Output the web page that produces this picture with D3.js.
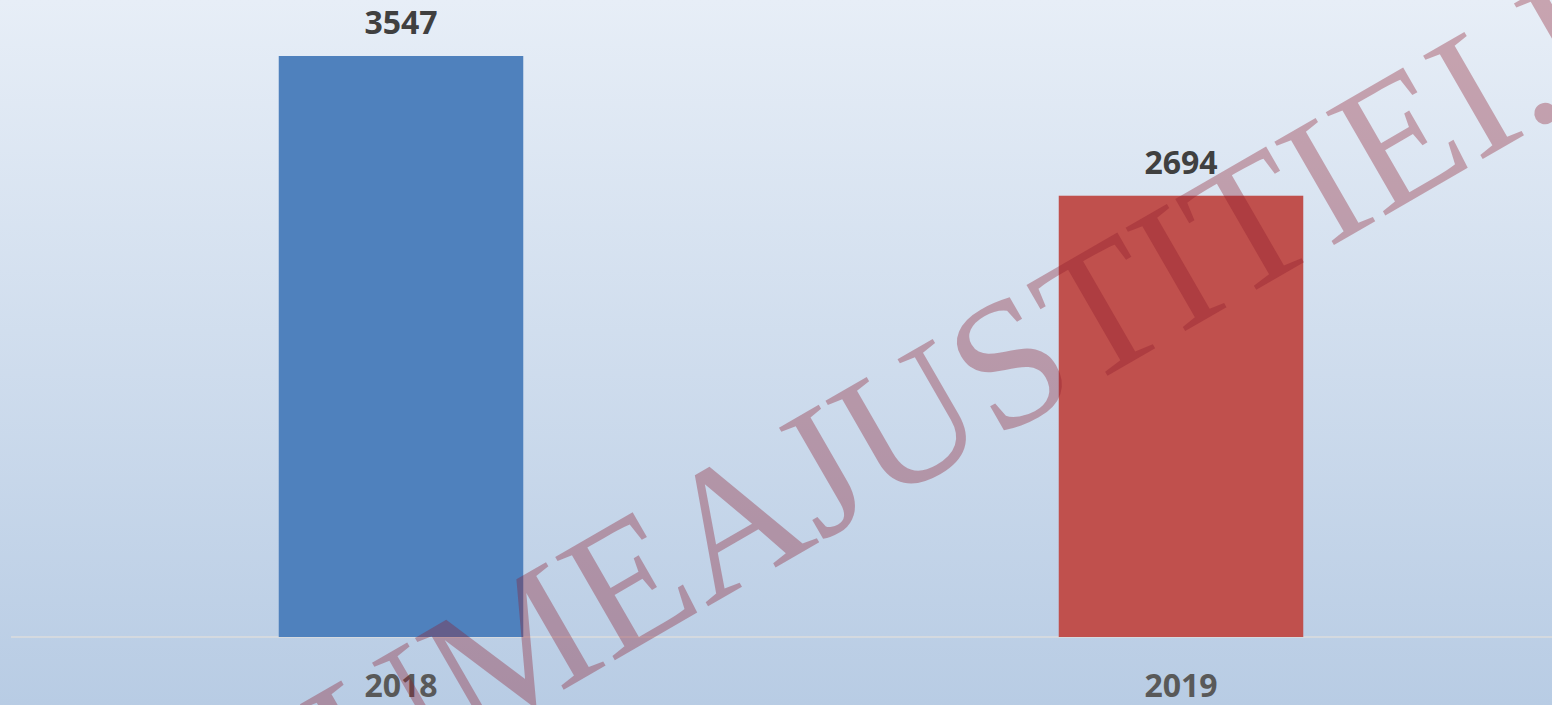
<!DOCTYPE html>
<html>
<head>
<meta charset="utf-8">
<script src="https://cdn.jsdelivr.net/npm/d3@7"></script>
<style>
    body { margin: 0; overflow: hidden; }
    #chart { width: 1552px; height: 705px; }
</style>
</head>
<body>
<div id="chart"></div>
<script>
// data
const years = ["2018", "2019"];
const values = [3547, 2694];
const barColors = ["#4f81bd", "#c0504d"];
const watermark = "LUMEAJUSTITIEI.RO";

const width = 1552, height = 705;

const svg = d3.select("#chart").append("svg")
    .attr("width", width)
    .attr("height", height);

// background gradient
const grad = svg.append("defs").append("linearGradient")
    .attr("id", "bg")
    .attr("x1", 0).attr("y1", 0).attr("x2", 0).attr("y2", 1);
grad.append("stop").attr("offset", "0%").attr("stop-color", "#e7eef7");
grad.append("stop").attr("offset", "100%").attr("stop-color", "#b8cce4");

svg.append("rect")
    .attr("width", width)
    .attr("height", height)
    .attr("fill", "url(#bg)");

// scales
let x = d3.scaleBand()
    .domain(years)
    .range([11, 1571])
    .padding(0);

let y = d3.scaleLinear()
    .domain([0, 4000])
    .range([637, 637 - 4000 * 0.1638]);

let barWidth = x.bandwidth() / (1 + 2.19);

// baseline
svg.append("line")
    .attr("x1", 11).attr("x2", width)
    .attr("y1", y(0)).attr("y2", y(0))
    .attr("stroke", "#dcdcdc")
    .attr("stroke-width", 1.5);

// bars
svg.selectAll(".bar")
    .data(years)
    .enter().append("rect")
    .attr("class", "bar")
    .attr("x", (d) => x(d) + x.bandwidth() / 2 - barWidth / 2)
    .attr("y", (d, i) => y(values[i]))
    .attr("width", barWidth)
    .attr("height", (d, i) => y(0) - y(values[i]))
    .attr("fill", (d, i) => barColors[i]);

// value labels
svg.selectAll(".val")
    .data(years)
    .enter().append("text")
    .attr("class", "val")
    .attr("x", (d) => x(d) + x.bandwidth() / 2)
    .attr("y", (d, i) => y(values[i]) - 22)
    .attr("text-anchor", "middle")
    .attr("font-family", "'Open Sans', sans-serif")
    .attr("font-weight", 700)
    .attr("font-size", 32)
    .attr("fill", "#404040")
    .text((d, i) => values[i]);

// category labels
svg.selectAll(".cat")
    .data(years)
    .enter().append("text")
    .attr("class", "cat")
    .attr("x", (d) => x(d) + x.bandwidth() / 2)
    .attr("y", 697)
    .attr("text-anchor", "middle")
    .attr("font-family", "'Open Sans', sans-serif")
    .attr("font-weight", 700)
    .attr("font-size", 32)
    .attr("fill", "#595959")
    .text((d) => d);

// watermark
svg.append("text")
    .attr("transform", "translate(260,865) rotate(-30)")
    .attr("font-family", "'Liberation Serif', 'Times New Roman', serif")
    .attr("font-size", 182)
    .attr("fill", "#8b1a2b")
    .attr("fill-opacity", 0.35)
    .text(watermark);
</script>
</body>
</html>
